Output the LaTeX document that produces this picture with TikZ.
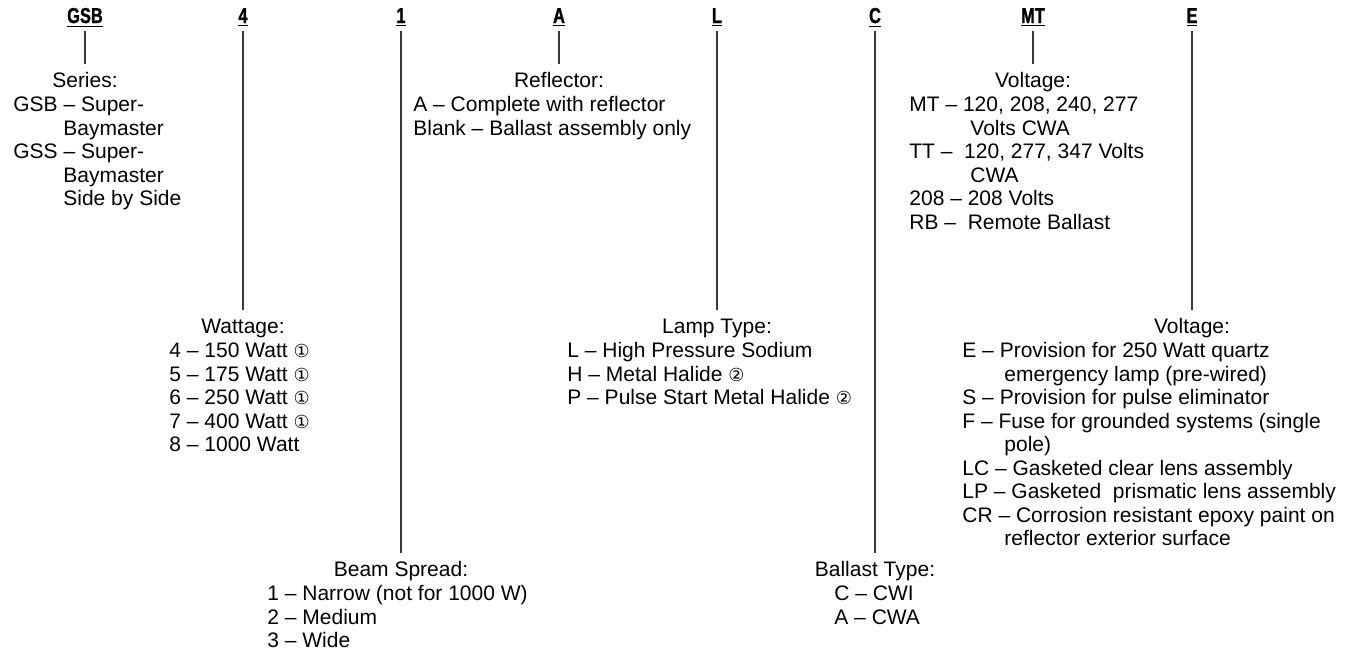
\documentclass[tikz,border=0pt]{standalone}
\usepackage{fontspec}
\setmainfont{Liberation Sans}
\newfontfamily\codefont[FakeStretch=0.76,FakeBold=1.2]{Liberation Sans}
\newfontfamily\dejavu{DejaVu Sans}
\usetikzlibrary{positioning}
\definecolor{cLead}{HTML}{3A3A3A}
\newcommand{\noteA}{{\dejavu\fontsize{9}{9}\selectfont ①}}
\newcommand{\noteB}{{\dejavu\fontsize{9}{9}\selectfont ②}}
\newcommand{\firstline}{\rule{0pt}{8pt}}

\begin{document}
\begin{tikzpicture}[x=0.5pt, y=-0.5pt,
    code/.style={font=\codefont\bfseries\fontsize{10.8}{12}\selectfont, anchor=base, inner xsep=0pt, inner ysep=2.4pt, text depth=1.6pt},
    title/.style={font=\fontsize{10.5}{11.75}\selectfont, anchor=base, inner xsep=0pt, inner ysep=4.25pt, text height=7.5pt, text depth=0pt},
    body/.style={font=\fontsize{10.5}{11.75}\selectfont, align=left, anchor=north west, inner sep=0pt},
    lead/.style={cLead, line width=0.6pt}]
\useasboundingbox (0,0) rectangle (1358,650);

% Catalogue code
\foreach \n/\x/\t in {ser/85/GSB, watt/243/4, beam/401/1, refl/559/A, lamp/717/L, ball/875/C, volt/1033/MT, opt/1192/E} {
    \node[code] (h\n) at (\x,23) {\underline{\t}};
}

% Headings, three rows
\foreach \n/\x/\y/\t in {ser/85/87.5/Series:, refl/559/87.5/Reflector:, volt/1033/87.5/Voltage:,
    watt/243/333.5/Wattage:, lamp/717/333.5/Lamp Type:, opt/1192/333.5/Voltage:,
    beam/401/576.5/Beam Spread:, ball/875/576.5/Ballast Type:} {
    \node[title] (t\n) at (\x,\y) {\t};
}

% Leaders from code to heading
\foreach \n in {ser, watt, beam, refl, lamp, ball, volt, opt} {
    \draw[lead] (h\n) -- (t\n);
}

% Option lists
\node[body] (bser) at (13,95.5) {\firstline GSB -- Super-\\
    \hspace*{25pt}Baymaster\\
    GSS -- Super-\\
    \hspace*{25pt}Baymaster\\
    \hspace*{25pt}Side by Side};

\node[body] (brefl) at (413,95.5) {\firstline A -- Complete with reflector\\
    Blank -- Ballast assembly only};

\node[body] (bvolt) at (909,95.5) {\firstline MT -- 120, 208, 240, 277\\
    \hspace*{30.5pt}Volts CWA\\
    TT --\ \ 120, 277, 347 Volts\\
    \hspace*{30.5pt}CWA\\
    208 -- 208 Volts\\
    RB --\ \ Remote Ballast};

\node[body] (bwatt) at (169,341.5) {\firstline 4 -- 150 Watt \noteA\\
    5 -- 175 Watt \noteA\\
    6 -- 250 Watt \noteA\\
    7 -- 400 Watt \noteA\\
    8 -- 1000 Watt};

\node[body] (blamp) at (567,341.5) {\firstline L -- High Pressure Sodium\\
    H -- Metal Halide \noteB\\
    P -- Pulse Start Metal Halide \noteB};

\node[body] (bopt) at (962,341.5) {\firstline E -- Provision for 250 Watt quartz\\
    \hspace*{21pt}emergency lamp (pre-wired)\\
    S -- Provision for pulse eliminator\\
    F -- Fuse for grounded systems (single\\
    \hspace*{21pt}pole)\\
    LC -- Gasketed clear lens assembly\\
    LP -- Gasketed\ \ prismatic lens assembly\\
    CR -- Corrosion resistant epoxy paint on\\
    \hspace*{21pt}reflector exterior surface};

\node[body] (bbeam) at (267,584.5) {\firstline 1 -- Narrow (not for 1000 W)\\
    2 -- Medium\\
    3 -- Wide};

\node[body] (bball) at (834,584.5) {\firstline C -- CWI\\
    A -- CWA};

\end{tikzpicture}
\end{document}
